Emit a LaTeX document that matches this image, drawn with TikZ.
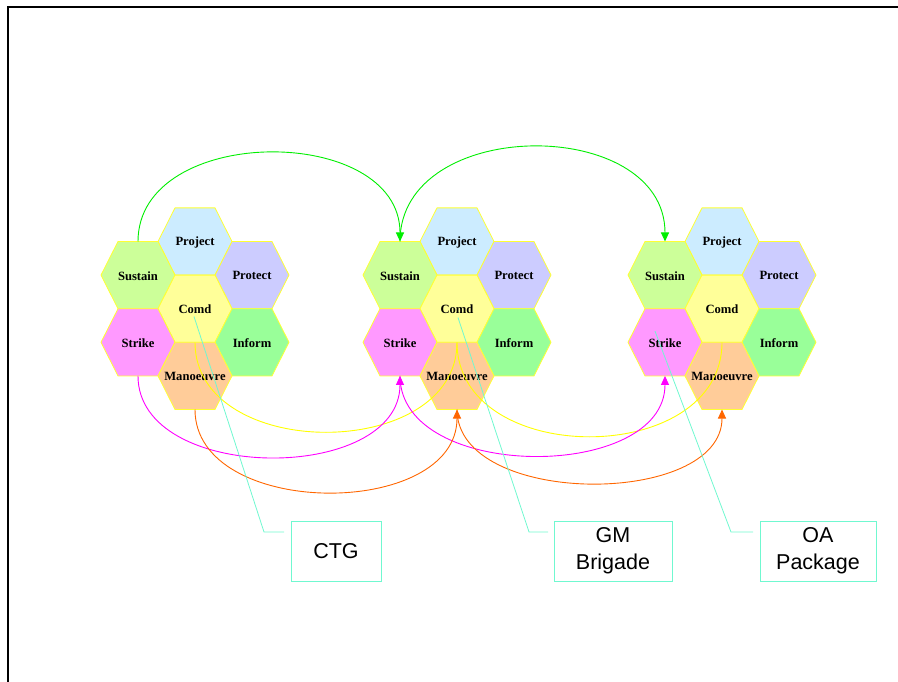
\documentclass[tikz,border=0pt]{standalone}
\usepackage{fontspec}
\setmainfont{Liberation Serif}
\newfontfamily\boxfont{Liberation Sans}
\usetikzlibrary{arrows.meta,calc}
\definecolor{projc}{HTML}{CCECFF}
\definecolor{sustc}{HTML}{CCFF99}
\definecolor{protc}{HTML}{CCCCFF}
\definecolor{comdc}{HTML}{FFFF99}
\definecolor{strkc}{HTML}{FF99FF}
\definecolor{infoc}{HTML}{99FF99}
\definecolor{manoc}{HTML}{FFCC99}
\definecolor{hexborder}{HTML}{FFFF33}
\definecolor{leadc}{HTML}{70F8D0}
\definecolor{arcgreen}{HTML}{00EE00}
\definecolor{arcmag}{HTML}{FF00FF}
\definecolor{arcorange}{HTML}{FF6600}
\definecolor{arcyellow}{HTML}{FFFF00}
\newcommand\hexat[5]{%
  \path[hexcell,fill=#4] (#2-37,#3) -- (#2-20,#3-33.6) -- (#2+20,#3-33.6)
     -- (#2+37,#3) -- (#2+20,#3+33.6) -- (#2-20,#3+33.6) -- cycle;
  \node[hexlabel] (#1) at (#2,#3+0.8) {#5};
  \coordinate (#1-t) at (#2,#3-33.6);
  \coordinate (#1-b) at (#2,#3+33.6);
}
\tikzset{
  hexcell/.style={draw=hexborder,line width=0.8pt},
  hexlabel/.style={font=\fontsize{12.6}{14}\selectfont\bfseries,inner sep=2pt},
  arc/.style={line width=0.9pt},
  arcarrow/.style={arc,-{Triangle[length=9pt,width=8pt]}},
  leader/.style={draw=leadc,line width=0.8pt},
  labelbox/.style={draw=leadc,line width=0.8pt,font=\boxfont\fontsize{21.5}{27}\selectfont,
     align=center,minimum height=60pt,inner sep=0pt},
  frame/.style={line width=2pt}
}
\begin{document}
\begin{tikzpicture}[x=1pt,y=-1pt]
\useasboundingbox (0,0) rectangle (898,682);
\draw[frame] (7.5,690) -- (7.5,7.5) -- (905,7.5);
\foreach \X/\c in {195/1,457/2,722/3}{
  \hexat{c\c-project}{\X}{241.5}{projc}{Project}
  \hexat{c\c-sustain}{\X-57}{275.1}{sustc}{Sustain}
  \hexat{c\c-protect}{\X+57}{275.1}{protc}{Protect}
  \hexat{c\c-comd}{\X}{308.7}{comdc}{Comd}
  \hexat{c\c-strike}{\X-57}{342.3}{strkc}{Strike}
  \hexat{c\c-inform}{\X+57}{342.3}{infoc}{Inform}
  \hexat{c\c-manoeuvre}{\X}{375.9}{manoc}{Manoeuvre}
}
% green arcs
\draw[arcarrow,arcgreen] (c1-sustain-t) .. controls +(0,-118) and +(0,-118) .. (c2-sustain-t);
\draw[arcarrow,arcgreen] (c2-sustain-t) .. controls +(0,-126) and +(0,-126) .. (c3-sustain-t);
% yellow arcs
\draw[arc,arcyellow] (c1-comd-b) .. controls +(0,120) and +(0,120) .. (c2-comd-b);
\draw[arc,arcyellow] (c2-comd-b) .. controls +(0,126) and +(0,126) .. (c3-comd-b);
% magenta arcs
\draw[arcarrow,arcmag] (c1-strike-b) .. controls +(0,108) and +(0,108) .. (c2-strike-b);
\draw[arcarrow,arcmag] (c2-strike-b) .. controls +(0,106) and +(0,106) .. (c3-strike-b);
% orange arcs
\draw[arcarrow,arcorange] (c1-manoeuvre-b) .. controls +(0,110) and +(0,110) .. (c2-manoeuvre-b);
\draw[arcarrow,arcorange] (c2-manoeuvre-b) .. controls +(0,98) and +(0,98) .. (c3-manoeuvre-b);
% label boxes
\node[labelbox,minimum width=90pt] (ctg) at (336,551) {CTG};
\node[labelbox,minimum width=118pt] (gm) at (613,551) {GM\\Brigade};
\node[labelbox,minimum width=116pt] (oa) at (818,551) {OA\\Package};
% leaders
\coordinate (k1a) at (264,532); \coordinate (k1b) at (284,532);
\coordinate (k2a) at (529,532); \coordinate (k2b) at (548,532);
\coordinate (k3a) at (731,532); \coordinate (k3b) at (753,532);
\draw[leader] ($(c1-comd.center)+(-1,7)$) -- (k1a) -- (k1b);
\draw[leader] ($(c2-comd.center)+(1,8)$) -- (k2a) -- (k2b);
\draw[leader] ($(c3-strike.center)+(-10,-12)$) -- (k3a) -- (k3b);
\end{tikzpicture}
\end{document}
